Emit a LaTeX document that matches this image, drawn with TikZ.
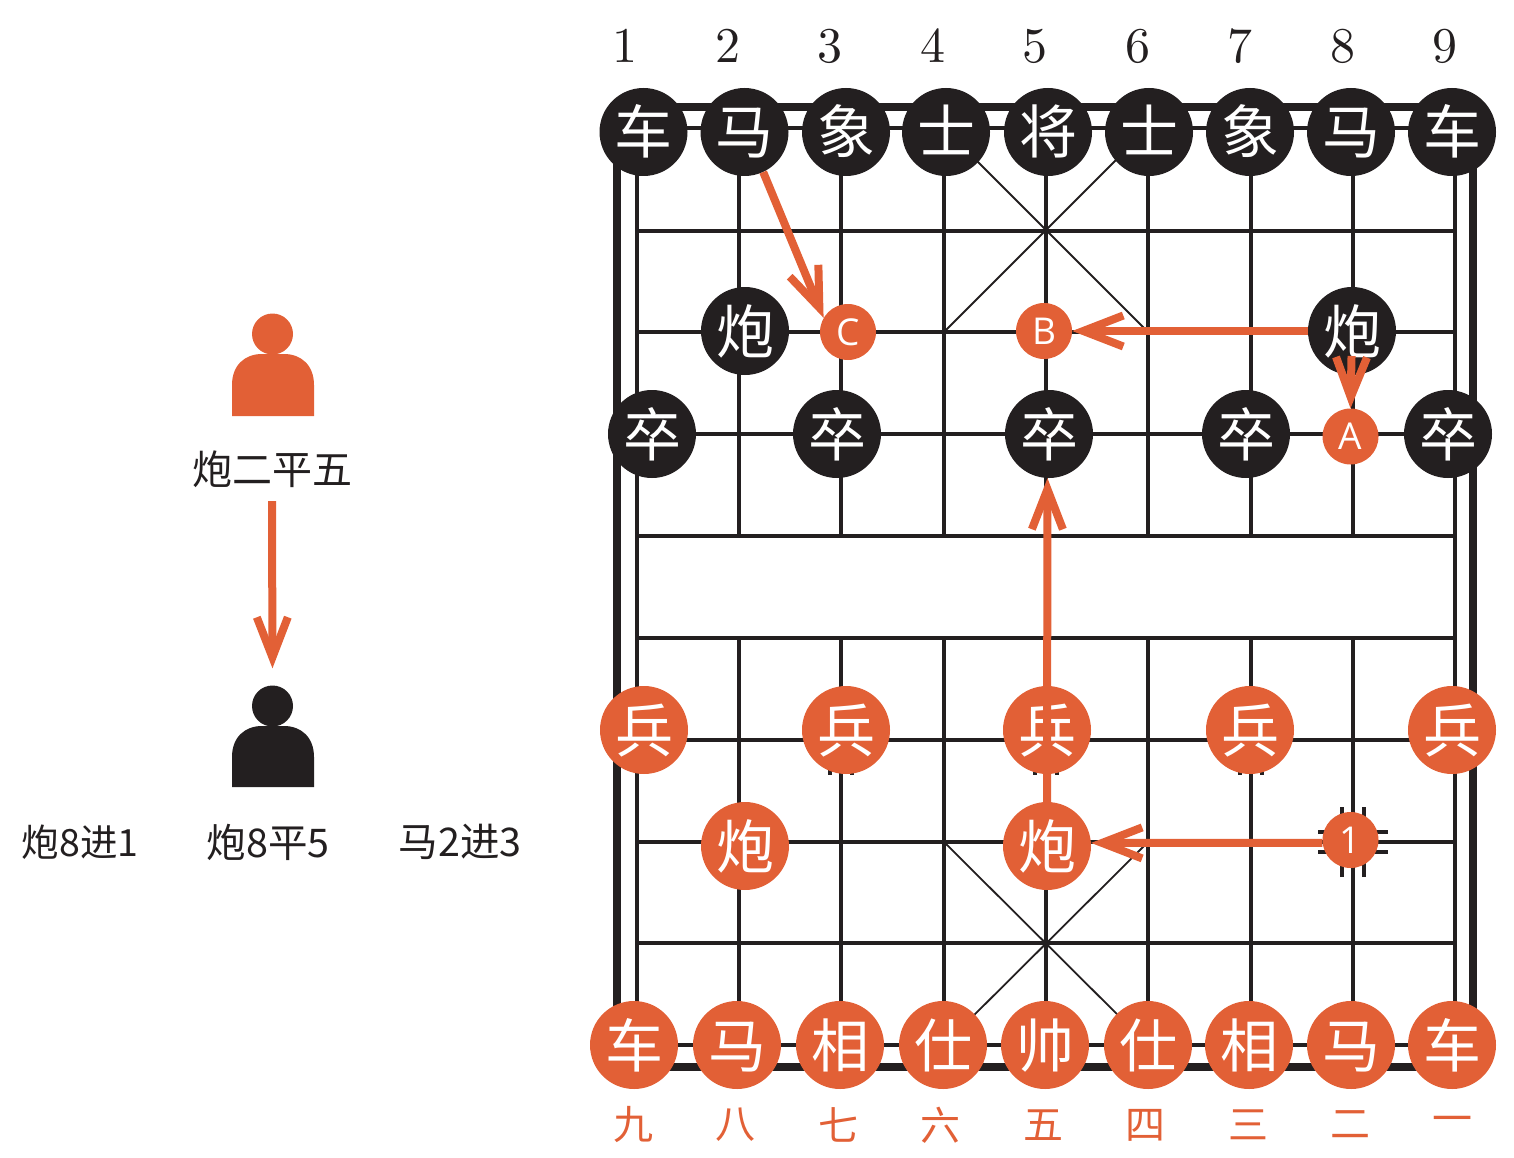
\documentclass[tikz,border=0pt]{standalone}
\usepackage{fontspec}
\usetikzlibrary{arrows.meta}
\newfontfamily\cjk{Noto Sans CJK SC}
\newfontfamily\letterfont{Open Sans}
\newfontfamily\numfont{lmroman10-regular}[Extension=.otf]
\definecolor{inkblack}{HTML}{231F20}
\definecolor{inkred}{HTML}{E26036}
\tikzset{
    blackpiece/.style={circle,fill=inkblack,text=white,minimum size=88pt,inner sep=0pt,font=\cjk\fontsize{58}{58}\selectfont,text height=51pt,text depth=7pt},
    redpiece/.style={blackpiece,fill=inkred},
    spot/.style={circle,fill=inkred,text=white,minimum size=56pt,inner sep=0pt,font=\letterfont\fontsize{37}{37}\selectfont},
    topnum/.style={text=inkblack,inner sep=0pt,font=\numfont\fontsize{50}{50}\selectfont},
    botnum/.style={text=inkred,inner sep=0pt,font=\cjk\fontsize{40}{40}\selectfont},
    movetext/.style={text=inkblack,inner sep=0pt,font=\cjk\fontsize{39.5}{40}\selectfont},
    outerline/.style={draw=inkblack,line width=8pt},
    gridline/.style={draw=inkblack,line width=3.2pt},
    palaceline/.style={draw=inkblack,line width=1.8pt},
    moveline/.style={draw=inkred,line width=8pt,-{Straight Barb[length=40pt,width=31pt]}},
}
\newcommand{\boardmark}[2]{
    \draw[gridline] (#1-11,#2-35) -- (#1-11,#2-10) -- (#1-35,#2-10);
    \draw[gridline] (#1+11,#2-35) -- (#1+11,#2-10) -- (#1+35,#2-10);
    \draw[gridline] (#1-11,#2+35) -- (#1-11,#2+10) -- (#1-35,#2+10);
    \draw[gridline] (#1+11,#2+35) -- (#1+11,#2+10) -- (#1+35,#2+10);
}
\newcommand{\boardtick}[1]{
    \draw[gridline] (#1-11,755) -- (#1-11,775);
    \draw[gridline] (#1+11,755) -- (#1+11,775);
}
\begin{document}
\begin{tikzpicture}[x=1pt,y=-1pt]
    \useasboundingbox (0,0) rectangle (1514,1158);
    % board
    \draw[outerline] (617,107) rectangle (1473,1067);
    \draw[gridline] (637,128) rectangle (1455,1045);
    \draw[gridline] (637,231) -- (1455,231);
    \draw[gridline] (637,332) -- (1455,332);
    \draw[gridline] (637,434) -- (1455,434);
    \draw[gridline] (637,536) -- (1455,536);
    \draw[gridline] (637,638) -- (1455,638);
    \draw[gridline] (637,740) -- (1455,740);
    \draw[gridline] (637,842) -- (1455,842);
    \draw[gridline] (637,943) -- (1455,943);
    \draw[gridline] (739,128) -- (739,536);
    \draw[gridline] (841,128) -- (841,536);
    \draw[gridline] (944,128) -- (944,536);
    \draw[gridline] (1046,128) -- (1046,536);
    \draw[gridline] (1148,128) -- (1148,536);
    \draw[gridline] (1251,128) -- (1251,536);
    \draw[gridline] (1353,128) -- (1353,536);
    \draw[gridline] (739,638) -- (739,1045);
    \draw[gridline] (841,638) -- (841,1045);
    \draw[gridline] (944,638) -- (944,1045);
    \draw[gridline] (1046,638) -- (1046,1045);
    \draw[gridline] (1148,638) -- (1148,1045);
    \draw[gridline] (1251,638) -- (1251,1045);
    \draw[gridline] (1353,638) -- (1353,1045);
    \draw[palaceline] (944,128) -- (1148,332);
    \draw[palaceline] (1148,128) -- (944,332);
    \draw[palaceline] (944,842) -- (1148,1045);
    \draw[palaceline] (1148,842) -- (944,1045);
    \boardtick{841}
    \boardtick{1046}
    \boardtick{1251}
    \boardmark{1353}{842}
    % file numbers
    \node[topnum] (T1) at (625,46) {1};
    \node[topnum] (T2) at (728,46) {2};
    \node[topnum] (T3) at (830,46) {3};
    \node[topnum] (T4) at (933,46) {4};
    \node[topnum] (T5) at (1035,46) {5};
    \node[topnum] (T6) at (1138,46) {6};
    \node[topnum] (T7) at (1240,46) {7};
    \node[topnum] (T8) at (1343,46) {8};
    \node[topnum] (T9) at (1445,46) {9};
    \node[botnum] (N9) at (633,1125) {九};
    \node[botnum] (N8) at (735,1125) {八};
    \node[botnum] (N7) at (838,1125) {七};
    \node[botnum] (N6) at (940,1125) {六};
    \node[botnum] (N5) at (1043,1125) {五};
    \node[botnum] (N4) at (1145,1125) {四};
    \node[botnum] (N3) at (1248,1125) {三};
    \node[botnum] (N2) at (1350,1125) {二};
    \node[botnum] (N1) at (1452,1125) {一};
    % black side
    \node[blackpiece] (BR1) at (643.5,132) {车};
    \node[blackpiece] (BH1) at (744.5,132) {马};
    \node[blackpiece] (BE1) at (846,132) {象};
    \node[blackpiece] (BA1) at (946,132) {士};
    \node[blackpiece] (BK) at (1048,132) {将};
    \node[blackpiece] (BA2) at (1149,132) {士};
    \node[blackpiece] (BE2) at (1250,132) {象};
    \node[blackpiece] (BH2) at (1351,132) {马};
    \node[blackpiece] (BR2) at (1452,132) {车};
    \node[blackpiece] (BC1) at (745,331) {炮};
    \node[blackpiece] (BC2) at (1352,331) {炮};
    \node[blackpiece] (BP1) at (652,434) {卒};
    \node[blackpiece] (BP2) at (837,434) {卒};
    \node[blackpiece] (BP3) at (1049,434) {卒};
    \node[blackpiece] (BP4) at (1246,434) {卒};
    \node[blackpiece] (BP5) at (1448,434) {卒};
    % red side
    \node[redpiece] (RP1) at (644,730) {兵};
    \node[redpiece] (RP2) at (846,730) {兵};
    \node[redpiece] (RP3) at (1047,730) {兵};
    \node[redpiece] (RP4) at (1250,730) {兵};
    \node[redpiece] (RP5) at (1452,730) {兵};
    \node[redpiece] (RC1) at (745,846) {炮};
    \node[redpiece] (RC2) at (1047,846) {炮};
    \node[redpiece] (RR1) at (634,1045) {车};
    \node[redpiece] (RH1) at (737,1045) {马};
    \node[redpiece] (RE1) at (840,1045) {相};
    \node[redpiece] (RA1) at (943,1045) {仕};
    \node[redpiece] (RK) at (1045,1045) {帅};
    \node[redpiece] (RA2) at (1148,1045) {仕};
    \node[redpiece] (RE2) at (1249,1045) {相};
    \node[redpiece] (RH2) at (1351,1045) {马};
    \node[redpiece] (RR2) at (1452,1045) {车};
    % marked points
    \node[spot] (SA) at (1350.5,436.5) {A};
    \node[spot] (SB) at (1044,331) {B};
    \node[spot] (SC) at (848,332) {C};
    \node[spot] (S1) at (1350.5,840) {1};
    % moves
    \draw[moveline] (BH1.-65) -- (SC.150);
    \draw[moveline] (BC2.west) -- (SB.east);
    \draw[moveline,shorten <=25pt] (BC2.center) -- (SA.north);
    \draw[moveline] (RC2.north) -- (BP3.-92);
    \draw[moveline] (S1.186) -- (RC2.4);
    % players
    \node[circle,fill=inkred,minimum size=41pt,inner sep=0pt] (RedHead) at (272.5,334) {};
    \fill[inkred] (232,416) -- (232,385) .. controls (232,365) and (245,354) .. (262,354) -- (284,354) .. controls (301,354) and (314,365) .. (314,385) -- (314,416) -- cycle;
    \node[circle,fill=inkblack,minimum size=41pt,inner sep=0pt] (BlackHead) at (272.5,706) {};
    \fill[inkblack] (232,787) -- (232,757) .. controls (232,737) and (245,726) .. (262,726) -- (284,726) .. controls (301,726) and (314,737) .. (314,757) -- (314,787) -- cycle;
    \node[movetext,font=\cjk\fontsize{40}{40}\selectfont,text height=31pt,text depth=9pt] (MoveRed) at (272,473) {炮二平五};
    \draw[moveline,shorten <=8pt,shorten >=17pt] (MoveRed.south) -- (BlackHead.north);
    \node[movetext,font=\cjk\fontsize{37.5}{40}\selectfont] (Reply1) at (80,842) {炮8进1};
    \node[movetext] (Reply2) at (268,842) {炮8平5};
    \node[movetext] (Reply3) at (460,842) {马2进3};
\end{tikzpicture}
\end{document}
